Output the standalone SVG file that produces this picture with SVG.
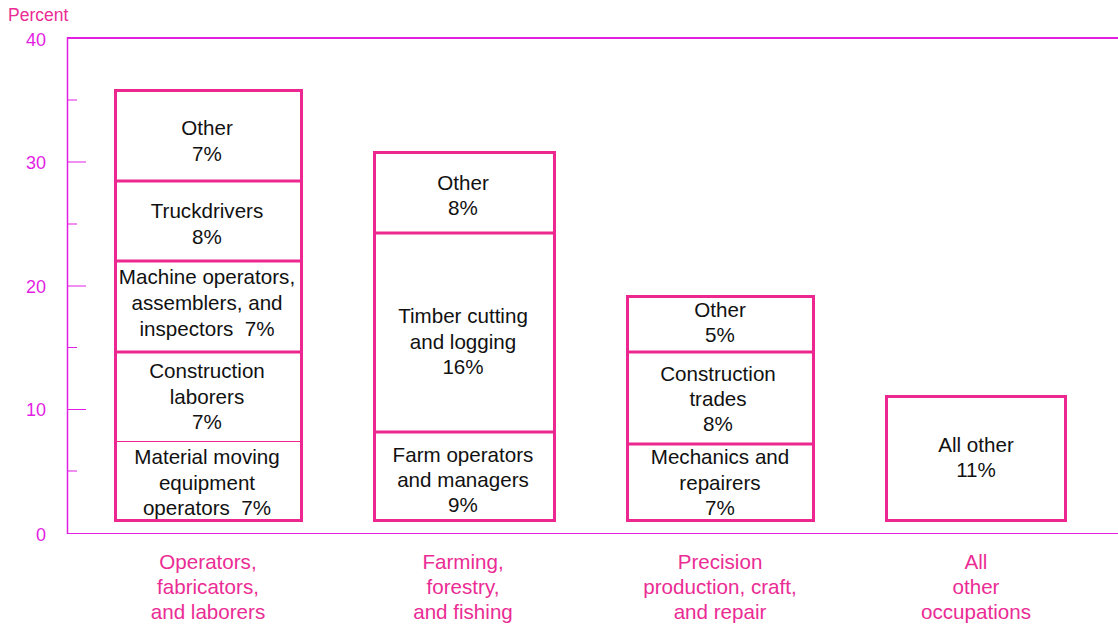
<svg xmlns="http://www.w3.org/2000/svg" width="1118" height="627" viewBox="0 0 1118 627">
<style>
.ax{stroke:#e31ee3;fill:none}
.bar{fill:#fff;stroke:#ec2890;stroke-width:3}
.div{stroke:#ec2890;stroke-width:3}
.t{font-family:"Liberation Sans",Arial,sans-serif;font-size:20.6px;fill:#111;text-anchor:middle}
.yl{font-family:"Liberation Sans",Arial,sans-serif;font-size:18px;fill:#e31ee3;text-anchor:end}
.cl{font-family:"Liberation Sans",Arial,sans-serif;font-size:20.6px;fill:#ea2c94;text-anchor:middle}
</style>
<rect width="1118" height="627" fill="#fff"/>
<g id="axes">
<line class="ax" x1="67" y1="38" x2="1118" y2="38" stroke-width="2"/>
<line class="ax" x1="67.5" y1="37" x2="67.5" y2="534" stroke-width="1.5"/>
<line class="ax" x1="67" y1="533.5" x2="1118" y2="533.5" stroke-width="1"/>
<line class="ax" x1="67" y1="162" x2="86" y2="162"/>
<line class="ax" x1="67" y1="286" x2="86" y2="286"/>
<line class="ax" x1="67" y1="409.5" x2="86" y2="409.5"/>
<line class="ax" x1="67" y1="100" x2="77" y2="100"/>
<line class="ax" x1="67" y1="224" x2="77" y2="224"/>
<line class="ax" x1="67" y1="347.5" x2="77" y2="347.5"/>
<line class="ax" x1="67" y1="471" x2="77" y2="471"/>
<text x="8" y="21" font-family="'Liberation Sans',Arial,sans-serif" font-size="17.5" fill="#ea2c94">Percent</text>
<text class="yl" x="46" y="46">40</text>
<text class="yl" x="46" y="169">30</text>
<text class="yl" x="46" y="293">20</text>
<text class="yl" x="46" y="416">10</text>
<text class="yl" x="46" y="541">0</text>
</g>
<g id="bar1">
<rect class="bar" x="115.5" y="90.5" width="186" height="430"/>
<line class="div" x1="115" y1="181" x2="302" y2="181"/>
<line class="div" x1="115" y1="261" x2="302" y2="261"/>
<line class="div" x1="115" y1="352" x2="302" y2="352"/>
<line x1="115" y1="441.5" x2="302" y2="441.5" stroke="#ec2890" stroke-width="1"/>
<text class="t" x="207" y="135">Other</text>
<text class="t" x="207" y="161">7%</text>
<text class="t" x="207" y="218">Truckdrivers</text>
<text class="t" x="207" y="244">8%</text>
<text class="t" x="207" y="284">Machine operators,</text>
<text class="t" x="207" y="310">assemblers, and</text>
<text class="t" x="207" y="336" xml:space="preserve">inspectors  7%</text>
<text class="t" x="207" y="378">Construction</text>
<text class="t" x="207" y="404">laborers</text>
<text class="t" x="207" y="429">7%</text>
<text class="t" x="207" y="464">Material moving</text>
<text class="t" x="207" y="490">equipment</text>
<text class="t" x="207" y="515" xml:space="preserve">operators  7%</text>
</g>
<g id="bar2">
<rect class="bar" x="374.5" y="152.5" width="180" height="368"/>
<line class="div" x1="374" y1="233" x2="555" y2="233"/>
<line class="div" x1="374" y1="432" x2="555" y2="432"/>
<text class="t" x="463" y="190">Other</text>
<text class="t" x="463" y="215">8%</text>
<text class="t" x="463" y="323">Timber cutting</text>
<text class="t" x="463" y="349">and logging</text>
<text class="t" x="463" y="374">16%</text>
<text class="t" x="463" y="462">Farm operators</text>
<text class="t" x="463" y="487">and managers</text>
<text class="t" x="463" y="512">9%</text>
</g>
<g id="bar3">
<rect class="bar" x="627.5" y="296.5" width="186" height="224"/>
<line class="div" x1="627" y1="352" x2="814" y2="352"/>
<line class="div" x1="627" y1="444" x2="814" y2="444"/>
<text class="t" x="720" y="317">Other</text>
<text class="t" x="720" y="342">5%</text>
<text class="t" x="718" y="381">Construction</text>
<text class="t" x="718" y="406">trades</text>
<text class="t" x="718" y="431">8%</text>
<text class="t" x="720" y="464">Mechanics and</text>
<text class="t" x="720" y="490">repairers</text>
<text class="t" x="720" y="515">7%</text>
</g>
<g id="bar4">
<rect class="bar" x="886.5" y="396.5" width="179" height="124"/>
<text class="t" x="976" y="452">All other</text>
<text class="t" x="976" y="477">11%</text>
</g>
<g id="categories">
<text class="cl" x="208" y="569">Operators,</text>
<text class="cl" x="208" y="594">fabricators,</text>
<text class="cl" x="208" y="619">and laborers</text>
<text class="cl" x="463" y="569">Farming,</text>
<text class="cl" x="463" y="594">forestry,</text>
<text class="cl" x="463" y="619">and fishing</text>
<text class="cl" x="720" y="569">Precision</text>
<text class="cl" x="720" y="594">production, craft,</text>
<text class="cl" x="720" y="619">and repair</text>
<text class="cl" x="976" y="569">All</text>
<text class="cl" x="976" y="594">other</text>
<text class="cl" x="976" y="619">occupations</text>
</g>
<g id="connectors"></g>
</svg>
